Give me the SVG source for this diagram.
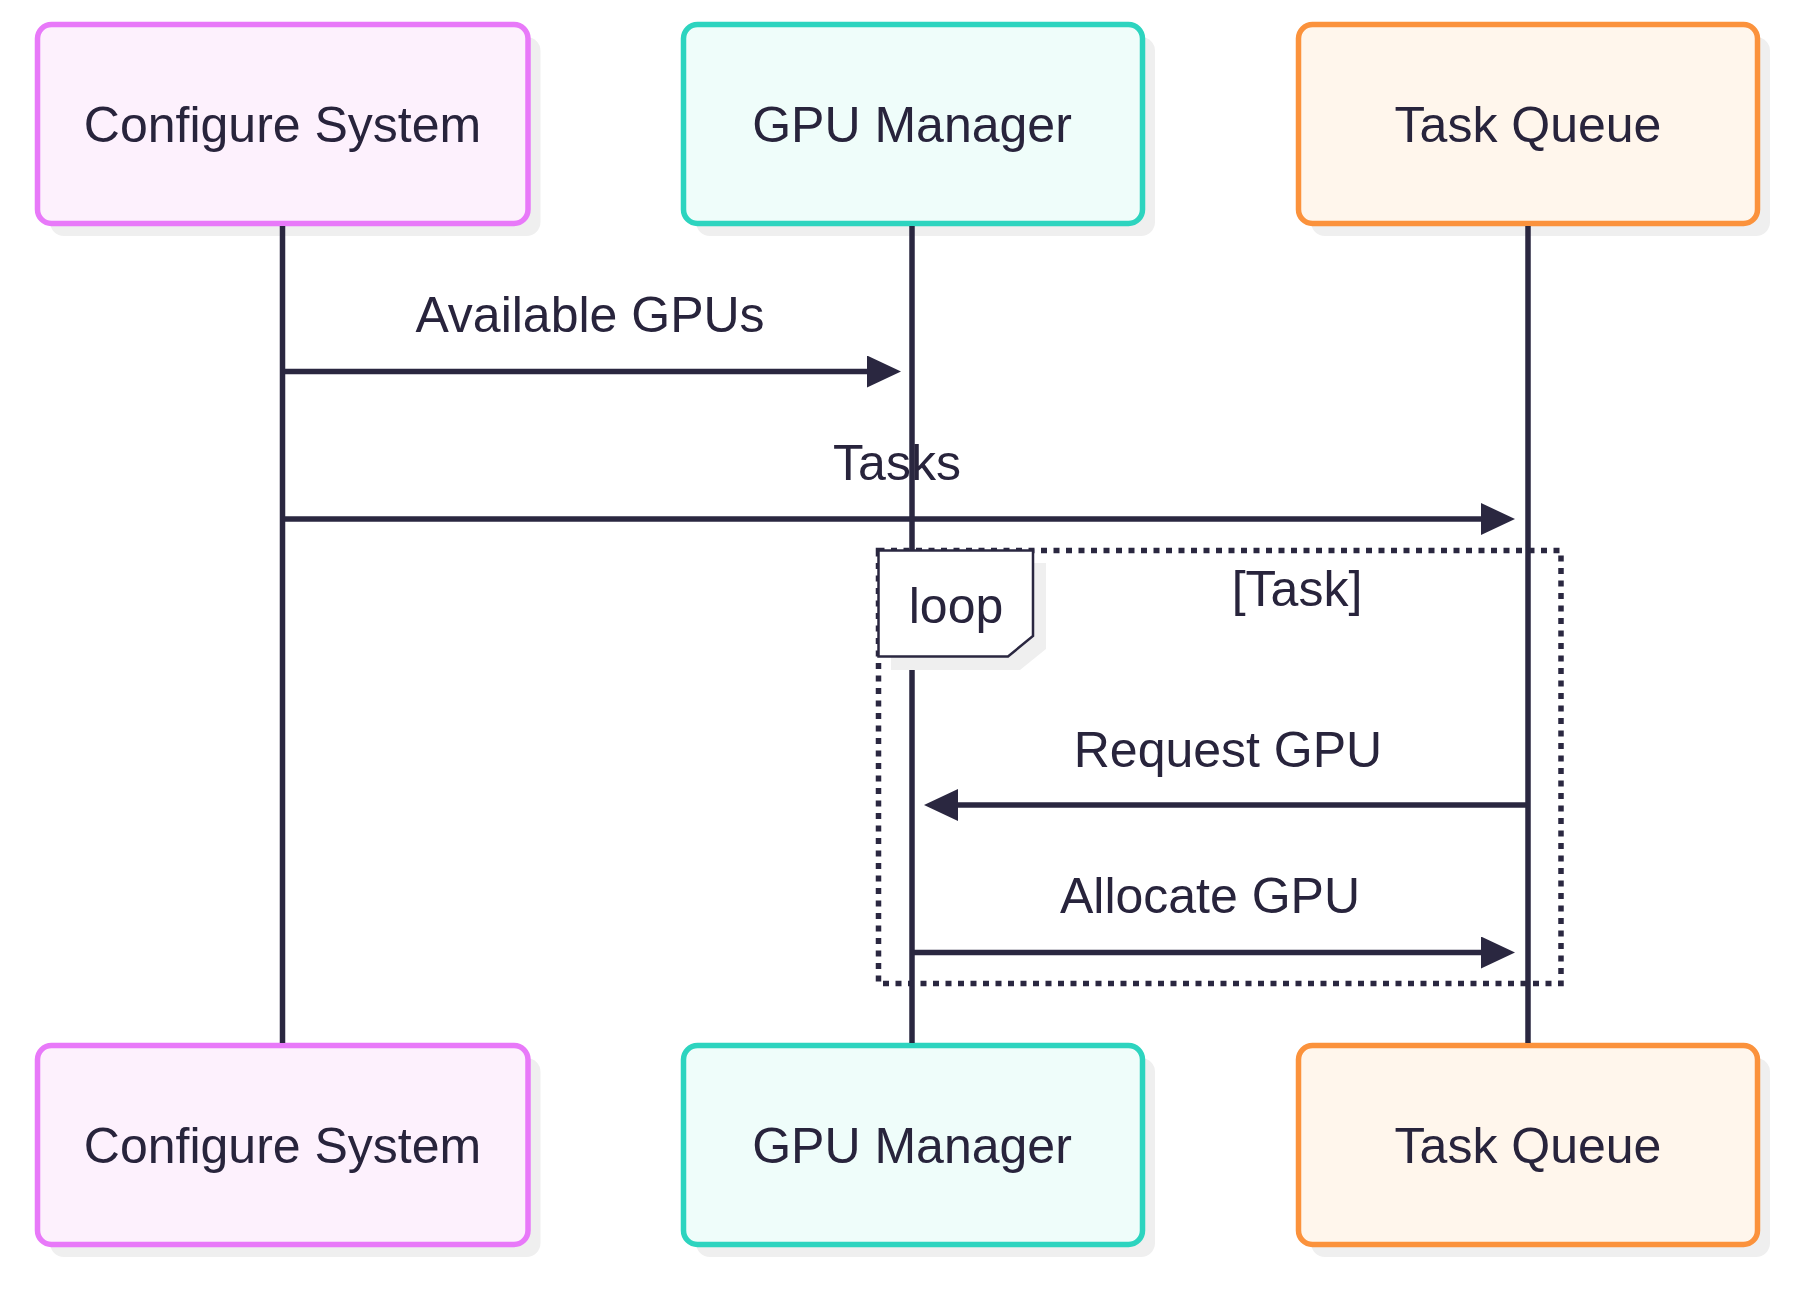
<svg xmlns="http://www.w3.org/2000/svg" width="1808" height="1298" viewBox="0 0 1808 1298">
<defs>
<style>
.t{font-family:"Liberation Sans",Arial,sans-serif;font-size:50px;fill:#28243c;text-anchor:middle}
.life{stroke:#2a2740;stroke-width:5.5;fill:none}
.msg{stroke:#2a2740;stroke-width:5.5;fill:none}
.shadow{fill:#efefef}
.cfg{fill:#fdf1fd;stroke:#e879f9;stroke-width:5.5}
.gpu{fill:#effdfa;stroke:#2dd4bf;stroke-width:5.5}
.tq{fill:#fff6ec;stroke:#fb923c;stroke-width:5.5}
</style>
<marker id="ah" viewBox="0 0 34 32" refX="24" refY="16" markerWidth="34" markerHeight="32" markerUnits="userSpaceOnUse" orient="auto">
<path d="M0,0 L34,16 L0,32 Z" fill="#2a2740"/>
</marker>
</defs>
<rect width="1808" height="1298" fill="#ffffff"/>
<g id="configure-top">
<rect class="shadow" x="50" y="37" width="490.5" height="199" rx="14"/>
<rect class="cfg" x="37.5" y="24.5" width="490.5" height="199" rx="14"/>
<text class="t" x="282.5" y="142">Configure System</text>
</g>
<g id="gpu-top">
<rect class="shadow" x="696" y="37" width="459" height="199" rx="14"/>
<rect class="gpu" x="683.5" y="24.5" width="459" height="199" rx="14"/>
<text class="t" x="912" y="142">GPU Manager</text>
</g>
<g id="task-top">
<rect class="shadow" x="1311" y="37" width="459" height="199" rx="14"/>
<rect class="tq" x="1298.5" y="24.5" width="459" height="199" rx="14"/>
<text class="t" x="1528" y="142">Task Queue</text>
</g>
<g id="configure-bottom">
<rect class="shadow" x="50" y="1058" width="490.5" height="199" rx="14"/>
<rect class="cfg" x="37.5" y="1045.5" width="490.5" height="199" rx="14"/>
<text class="t" x="282.5" y="1163">Configure System</text>
</g>
<g id="gpu-bottom">
<rect class="shadow" x="696" y="1058" width="459" height="199" rx="14"/>
<rect class="gpu" x="683.5" y="1045.5" width="459" height="199" rx="14"/>
<text class="t" x="912" y="1163">GPU Manager</text>
</g>
<g id="task-bottom">
<rect class="shadow" x="1311" y="1058" width="459" height="199" rx="14"/>
<rect class="tq" x="1298.5" y="1045.5" width="459" height="199" rx="14"/>
<text class="t" x="1528" y="1163">Task Queue</text>
</g>
<g id="lifelines">
<line class="life" x1="282.5" y1="226" x2="282.5" y2="1043"/>
<line class="life" x1="912" y1="226" x2="912" y2="1043"/>
<line class="life" x1="1528" y1="226" x2="1528" y2="1043"/>
</g>
<g id="loop">
<rect x="878.5" y="550.5" width="682.5" height="433" fill="none" stroke="#2a2740" stroke-width="5.5" stroke-dasharray="6 6.5"/>
<path d="M891,563 L1046,563 L1046,649 L1020,670 L891,670 Z" class="shadow"/>
<path d="M878.5,550.5 L1033,550.5 L1033,636 L1008,656.5 L878.5,656.5 Z" fill="#ffffff" stroke="#2a2740" stroke-width="2.5"/>
<text class="t" x="956" y="623">loop</text>
<text class="t" x="1297" y="606">[Task]</text>
</g>
<g id="connectors">
<line class="msg" x1="282.5" y1="371.5" x2="891" y2="371.5" marker-end="url(#ah)"/>
<text class="t" x="590" y="332">Available GPUs</text>
<line class="msg" x1="282.5" y1="519" x2="1505" y2="519" marker-end="url(#ah)"/>
<text class="t" x="897" y="480">Tasks</text>
<line class="msg" x1="1528" y1="805" x2="934" y2="805" marker-end="url(#ah)"/>
<text class="t" x="1228" y="767">Request GPU</text>
<line class="msg" x1="912" y1="952.5" x2="1505" y2="952.5" marker-end="url(#ah)"/>
<text class="t" x="1210" y="913">Allocate GPU</text>
</g>
</svg>
